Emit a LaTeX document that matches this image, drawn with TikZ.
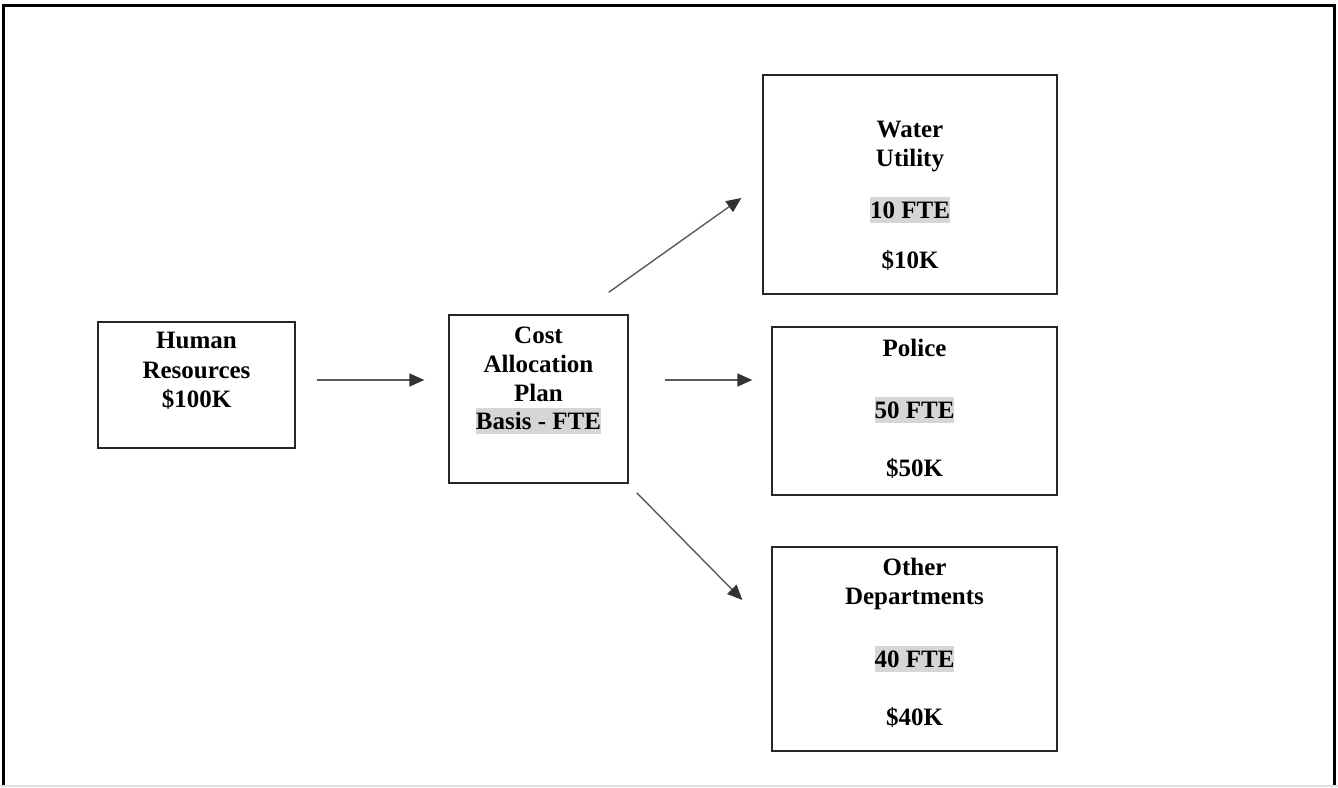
\documentclass[tikz,border=0pt]{standalone}
\usepackage{fontspec}
\setmainfont{Liberation Serif}
\usetikzlibrary{arrows.meta,calc}
\definecolor{hlgray}{HTML}{D6D6D6}
\definecolor{arrgray}{HTML}{5A5A5A}
\begin{document}
\begin{tikzpicture}[x=1pt,y=-1pt,
  box/.style={draw=black!85,line width=1.3pt,inner sep=0pt},
  lbl/.style={anchor=base,inner sep=0pt,font=\fontsize{25}{29}\selectfont\bfseries},
  hl/.style={lbl,fill=hlgray,text height=21pt,text depth=5pt},
  conn/.style={draw=arrgray,line width=1.4pt,-{Triangle[length=15pt,width=13pt,color=black!80]}}]
\useasboundingbox (0,0) rectangle (1338,787);
% outer frame
\draw[line width=3pt,black] (3.5,787) -- (3.5,5.5) -- (1334.5,5.5) -- (1334.5,787);
\draw[line width=1.5pt,black!12] (0,786) -- (1338,786);
% boxes
\node[box,minimum width=197,minimum height=126] (hr) at (196.5,385) {};
\node[box,minimum width=179,minimum height=168] (cap) at (538.5,399) {};
\node[box,minimum width=294,minimum height=219] (water) at (910,184.5) {};
\node[box,minimum width=285,minimum height=168] (police) at (914.5,411) {};
\node[box,minimum width=285,minimum height=204] (other) at (914.5,649) {};
% texts
\node[lbl] (hrA) at (196.5,348) {Human};
\node[lbl] (hrB) at (196.5,378) {Resources};
\node[lbl] (hrC) at (196.5,407) {\$100K};
\node[lbl] (capA) at (538.5,343) {Cost};
\node[lbl] (capB) at (538.5,372) {Allocation};
\node[lbl] (capC) at (538.5,401) {Plan};
\node[hl] (capD) at (538.5,429) {Basis - FTE};
\node[lbl] (waA) at (910,137) {Water};
\node[lbl] (waB) at (910,166) {Utility};
\node[hl] (waC) at (910,218) {10 FTE};
\node[lbl] (waD) at (910,268) {\$10K};
\node[lbl] (poA) at (914.5,356) {Police};
\node[hl] (poB) at (914.5,418) {50 FTE};
\node[lbl] (poC) at (914.5,476) {\$50K};
\node[lbl] (otA) at (914.5,575) {Other};
\node[lbl] (otB) at (914.5,604) {Departments};
\node[hl] (otC) at (914.5,667) {40 FTE};
\node[lbl] (otD) at (914.5,725) {\$40K};
% connectors
\draw[conn] ($(hr.east)+(21,-5)$) -- ($(cap.west)+(-24,-19)$);
\draw[conn] ($(cap.east)+(36,-19)$) -- ($(police.west)+(-19,-31)$);
\draw[conn] ($(cap.north east)+(-20,-22)$) -- ($(water.west)+(-21,13.5)$);
\draw[conn] ($(cap.south east)+(8,9)$) -- ($(other.west)+(-29,-49)$);
\end{tikzpicture}
\end{document}
